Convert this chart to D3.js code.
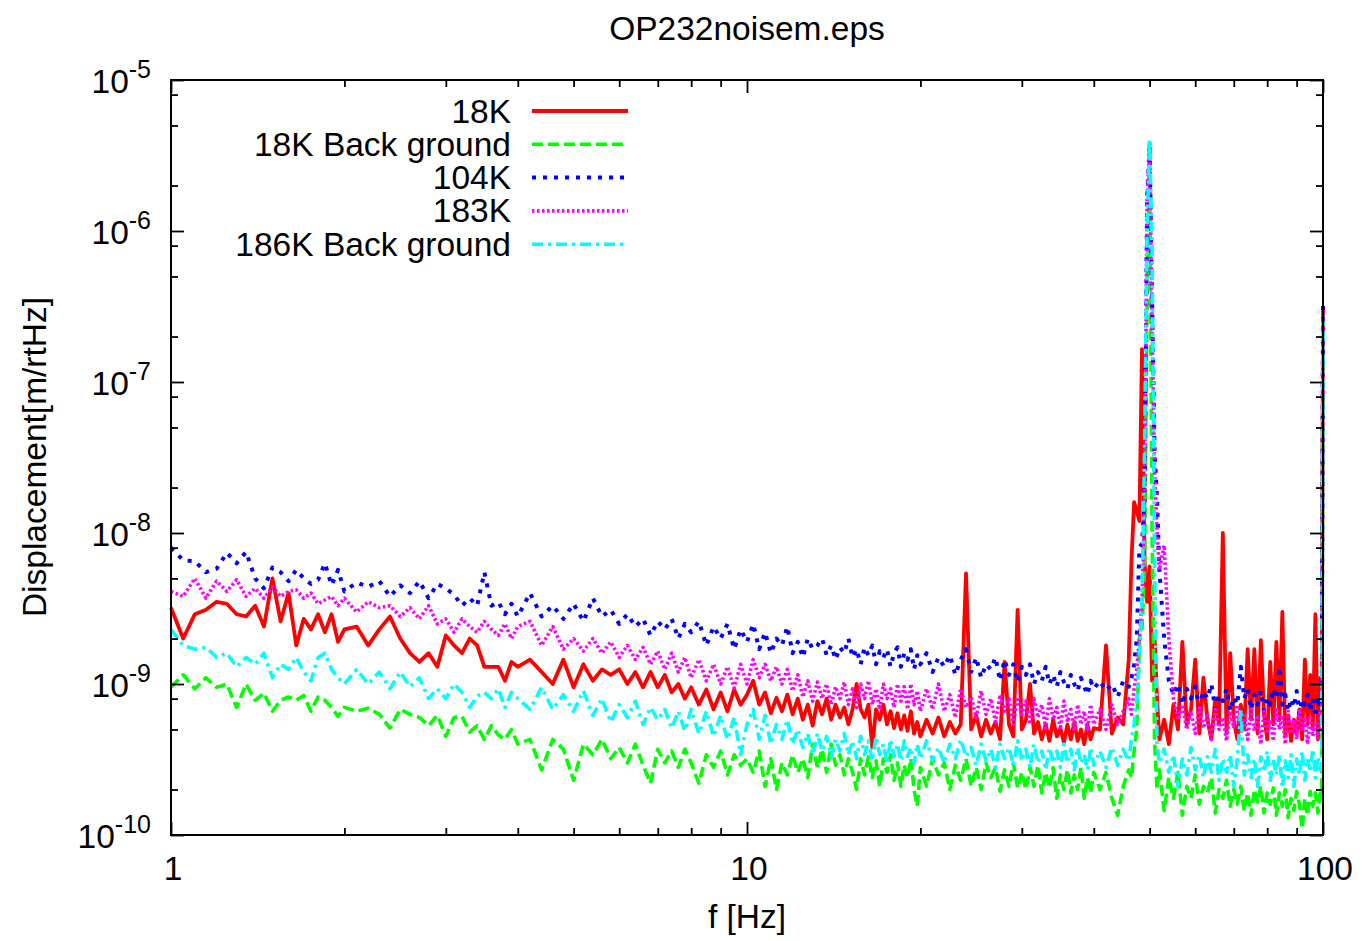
<!DOCTYPE html>
<html><head><meta charset="utf-8">
<script src="https://cdn.jsdelivr.net/npm/d3@7"></script>
<style>
body{margin:0;background:#fff;}
text{font-family:"Liberation Sans",Arial,Helvetica,sans-serif;fill:#000;}
</style></head><body>
<svg id="chart" width="1362" height="941"></svg>
<script>
// ---------------- data ----------------
const titleText = "OP232noisem.eps";
const xLabel = "f [Hz]";
const yLabel = "Displacement[m/rtHz]";
const seriesNames = ["18K","18K Back ground","104K","183K","186K Back ground"];

const freq = [
 1.00,1.05,1.10,1.15,1.20,1.25,1.30,1.35,1.40,1.45,1.50,1.55,1.60,1.65,1.70,1.75,1.80,1.85,1.90,1.95,2.00,
 2.1,2.2,2.3,2.4,2.5,2.6,2.7,2.8,2.9,3.0,3.1,3.2,3.3,3.4,3.5,3.6,3.7,3.8,3.9,4.0,
 4.2,4.4,4.6,4.8,5.0,5.2,5.4,5.6,5.8,6.0,6.2,6.4,6.6,6.8,7.0,7.2,7.4,7.6,7.8,8.0,
 8.25,8.5,8.75,9.0,9.25,9.5,9.75,10.0,
 10.25,10.5,10.75,11,11.25,11.5,11.75,12,12.25,12.5,12.75,13,13.25,13.5,13.75,14,14.25,14.5,14.75,15,
 15.25,15.5,15.75,16,16.25,16.5,16.75,17,17.25,17.5,17.75,18,18.25,18.5,18.75,19,19.25,19.5,19.75,20,
 20.5,21,21.5,22,22.5,23,23.5,24,24.5,25,25.5,26,26.5,27,27.5,28,28.5,29,29.5,30,
 30.5,31,31.5,32,32.5,33,33.5,34,34.5,35,35.5,36,36.5,37,37.5,38,38.5,39,39.5,40,
 41,42,43,44,45,46,
 46.5,47,47.5,48,48.5,49,49.5,50,50.5,51,51.5,52,
 53,54,55,56,57,58,59,60,61,62,63,64,65,66,67,68,69,70,71,72,
 73,74,75,76,77,78,79,80,81,82,83,84,85,86,87,88,89,90,91,92,
 93,94,95,96,97,98,99,99.5,100
];

const s18K = [
 3.2e-9,2.0e-9,2.9e-9,3.1e-9,3.5e-9,3.4e-9,2.9e-9,2.8e-9,3.3e-9,2.4e-9,5.0e-9,2.6e-9,4.0e-9,1.8e-9,2.7e-9,2.3e-9,2.9e-9,2.2e-9,2.9e-9,1.9e-9,2.3e-9,
 2.4e-9,1.8e-9,2.3e-9,2.8e-9,2.0e-9,1.6e-9,1.4e-9,1.6e-9,1.3e-9,2.1e-9,1.8e-9,1.6e-9,2.0e-9,1.8e-9,1.3e-9,1.3e-9,1.3e-9,1.05e-9,1.4e-9,1.3e-9,
 1.45e-9,1.2e-9,1.0e-9,1.45e-9,9.5e-10,1.35e-9,1.05e-9,1.25e-9,1.15e-9,1.25e-9,1.0e-9,1.2e-9,9.5e-10,1.2e-9,9.5e-10,1.15e-9,8.8e-10,1.0e-9,8e-10,9.5e-10,
 7.3e-10,9.2e-10,6.8e-10,8.8e-10,6.6e-10,9.2e-10,7.3e-10,8.5e-10,
 1.05e-9,7.3e-10,8.8e-10,6.4e-10,8.1e-10,6.6e-10,8.5e-10,6.3e-10,8e-10,5.8e-10,7.3e-10,5.3e-10,7.7e-10,6.3e-10,8e-10,5.8e-10,7.3e-10,6e-10,7e-10,5.4e-10,
 6.8e-10,1.0e-9,6.8e-10,6e-10,7.3e-10,3.8e-10,6.8e-10,5.8e-10,7.3e-10,5.4e-10,6.6e-10,5.1e-10,6.4e-10,5e-10,6.2e-10,4.9e-10,6.6e-10,4.7e-10,5.6e-10,4.5e-10,
 5.8e-10,4.7e-10,6e-10,4.5e-10,5.6e-10,4.7e-10,5.4e-10,5.4e-9,5e-10,6.2e-10,4.5e-10,5.8e-10,4.7e-10,5.6e-10,4.3e-10,1.4e-9,5.4e-10,4.5e-10,3.1e-9,5e-10,
 5.8e-10,1.0e-9,4.7e-10,5.6e-10,4.3e-10,5.4e-10,4.2e-10,5.8e-10,4.5e-10,5.1e-10,4.1e-10,5.4e-10,4.3e-10,5.6e-10,4.2e-10,5e-10,4e-10,5.4e-10,4.3e-10,5.1e-10,
 5e-10,1.8e-9,4.7e-10,6e-10,5.4e-10,1.45e-9,
 6.5e-9,1.6e-8,1.4e-8,1.2e-8,1.65e-7,6.5e-9,3.5e-9,6e-9,1.05e-9,2.1e-9,8e-10,4.3e-10,
 5.8e-10,4e-10,7.3e-10,5e-10,1.9e-9,5.4e-10,6.8e-10,1.45e-9,4.7e-10,1.1e-9,5.8e-10,4.3e-10,8e-10,5.4e-10,1.0e-8,4.7e-10,1.6e-9,5.8e-10,4.3e-10,7.3e-10,
 5e-10,1.7e-9,5.8e-10,1.7e-9,4.7e-10,1.95e-9,6.2e-10,4.3e-10,1.4e-9,5.4e-10,1.9e-9,5.8e-10,3e-9,4.5e-10,6.2e-10,4.2e-10,5.8e-10,4.7e-10,6.8e-10,4.3e-10,
 1.45e-9,5.4e-10,1.15e-9,5e-10,2.9e-9,4.3e-10,1.1e-9,5.8e-10,3e-7
];

const s18KBack = [
 9.5e-10,1.15e-9,9.3e-10,1.1e-9,9.5e-10,1.0e-9,7e-10,1.0e-9,7.8e-10,8.7e-10,6.6e-10,7.8e-10,8.2e-10,7.8e-10,8.4e-10,6.6e-10,8.2e-10,7.8e-10,7e-10,6.1e-10,7e-10,
 6.6e-10,6.9e-10,6.3e-10,5.1e-10,6.8e-10,6.3e-10,6e-10,5.3e-10,6.2e-10,4.5e-10,6e-10,6.1e-10,4.8e-10,5.3e-10,4.3e-10,5.3e-10,4.6e-10,4.3e-10,5e-10,4e-10,
 4.3e-10,2.7e-10,4.3e-10,3.7e-10,2.3e-10,4e-10,3.4e-10,4.3e-10,3.2e-10,3.8e-10,3e-10,4e-10,2.9e-10,2.2e-10,3.7e-10,3e-10,3.6e-10,2.8e-10,3.7e-10,3e-10,
 2.2e-10,3.4e-10,2.8e-10,3.6e-10,2.5e-10,3.4e-10,2.9e-10,3.2e-10,
 2.6e-10,3.6e-10,2.1e-10,3.2e-10,2e-10,3e-10,2.5e-10,3.4e-10,2.6e-10,3.2e-10,2.4e-10,4e-10,2.8e-10,3.7e-10,2.6e-10,4e-10,2.9e-10,3.4e-10,2.5e-10,3.2e-10,
 2.6e-10,2e-10,3.2e-10,2.5e-10,3.3e-10,2.4e-10,3.1e-10,2.1e-10,3.2e-10,2.6e-10,3.4e-10,2.3e-10,3e-10,2.1e-10,2.9e-10,2.4e-10,3.2e-10,2e-10,1.55e-10,2.8e-10,
 2.1e-10,3.2e-10,2.5e-10,3e-10,2e-10,2.9e-10,2.3e-10,3.2e-10,2.1e-10,2.8e-10,2e-10,3e-10,2.4e-10,2.8e-10,1.95e-10,2.7e-10,2.1e-10,3e-10,2.05e-10,2.6e-10,
 2e-10,2.8e-10,2.1e-10,2.9e-10,1.9e-10,2.6e-10,2.05e-10,2.8e-10,1.75e-10,2.5e-10,2e-10,2.7e-10,1.9e-10,2.5e-10,2e-10,2.8e-10,1.75e-10,2.4e-10,1.9e-10,2.6e-10,
 2e-10,2.6e-10,1.75e-10,1.35e-10,2.1e-10,2.7e-10,
 2.4e-10,3.6e-10,5e-10,2e-9,2.3e-9,5.7e-9,3.5e-7,3.8e-6,1e-8,4.2e-10,2e-10,2.7e-10,
 1.45e-10,2.4e-10,1.75e-10,2.6e-10,1.35e-10,2.1e-10,1.75e-10,2.5e-10,1.6e-10,2.1e-10,1.9e-10,2.4e-10,1.4e-10,2e-10,1.75e-10,2.3e-10,1.55e-10,2e-10,1.6e-10,2.1e-10,
 1.45e-10,1.9e-10,1.35e-10,2e-10,1.65e-10,2.1e-10,1.4e-10,1.9e-10,1.6e-10,2.05e-10,1.35e-10,1.9e-10,1.55e-10,2e-10,1.3e-10,1.75e-10,1.45e-10,1.95e-10,1.6e-10,1.1e-10,
 1.75e-10,1.35e-10,1.95e-10,1.55e-10,1.9e-10,1.4e-10,2e-10,1.75e-10,2.8e-7
];

const s104K = [
 8e-9,6.6e-9,6.5e-9,5.5e-9,5.8e-9,7.4e-9,6.3e-9,7.5e-9,5e-9,4.3e-9,5.9e-9,5.5e-9,4.8e-9,5.7e-9,5e-9,4.6e-9,4.9e-9,6.3e-9,4.5e-9,5.7e-9,4.1e-9,
 4.7e-9,4.4e-9,4.8e-9,3.8e-9,4.5e-9,4e-9,4.8e-9,3.7e-9,4.6e-9,4.3e-9,3.9e-9,3.3e-9,3.7e-9,3.3e-9,5.5e-9,3.3e-9,3.5e-9,2.9e-9,3.4e-9,2.8e-9,
 4e-9,2.8e-9,3.3e-9,2.7e-9,3.4e-9,2.6e-9,3.7e-9,2.8e-9,3.1e-9,2.5e-9,2.9e-9,2.4e-9,2.7e-9,2.1e-9,2.6e-9,2.3e-9,2.7e-9,2e-9,2.5e-9,2.2e-9,
 2.6e-9,1.8e-9,2.4e-9,2e-9,2.5e-9,1.7e-9,2.3e-9,1.9e-9,
 2.5e-9,1.7e-9,2.2e-9,1.6e-9,2e-9,1.8e-9,2.4e-9,1.6e-9,1.9e-9,1.5e-9,2e-9,1.7e-9,1.8e-9,2e-9,1.55e-9,1.8e-9,1.45e-9,1.75e-9,1.6e-9,2e-9,
 1.5e-9,1.7e-9,1.35e-9,1.75e-9,1.55e-9,1.8e-9,1.35e-9,1.65e-9,1.5e-9,1.7e-9,1.3e-9,1.6e-9,1.75e-9,1.3e-9,1.6e-9,1.45e-9,1.7e-9,1.25e-9,1.55e-9,1.35e-9,
 1.6e-9,1.2e-9,1.5e-9,1.3e-9,1.55e-9,1.15e-9,1.45e-9,1.7e-9,1.2e-9,1.5e-9,1.1e-9,1.35e-9,1.25e-9,1.5e-9,1.05e-9,1.45e-9,1.15e-9,1.35e-9,1.03e-9,1.3e-9,
 1.15e-9,1.35e-9,1e-9,1.2e-9,1.05e-9,1.3e-9,1e-9,1.15e-9,9.6e-10,1.2e-9,1.03e-9,9.3e-10,1.15e-9,1e-9,9e-10,1.1e-9,9.6e-10,8.5e-10,1.05e-9,9.3e-10,
 1.05e-9,9e-10,1e-9,8.2e-10,1.05e-9,9.6e-10,
 1.1e-9,1.35e-9,2e-9,8e-9,8.5e-9,1.7e-8,1.6e-6,3.7e-6,3.5e-7,3.5e-8,1.7e-8,5.7e-9,
 2e-9,1.05e-9,8.5e-10,1e-9,7.3e-10,9.3e-10,8e-10,9.6e-10,7e-10,9e-10,8e-10,1e-9,6.8e-10,8.5e-10,7.7e-10,9.3e-10,6.6e-10,8.2e-10,7.3e-10,1.3e-9,
 8e-10,9.3e-10,6.8e-10,8.5e-10,7.3e-10,9e-10,6.6e-10,8.2e-10,7.3e-10,9.3e-10,8e-10,1.3e-9,7.3e-10,8.5e-10,6.6e-10,8e-10,7e-10,9e-10,6.3e-10,8e-10,
 7.3e-10,8.5e-10,6.6e-10,8e-10,6e-10,8.2e-10,6.8e-10,8.5e-10,3.2e-7
];

const s183K = [
 4.1e-9,3.8e-9,5e-9,3.7e-9,4.8e-9,4.1e-9,4.9e-9,3.8e-9,4.3e-9,3.7e-9,4.4e-9,3.8e-9,4.1e-9,4.2e-9,3.7e-9,4e-9,3.4e-9,3.6e-9,3.8e-9,3.3e-9,3.7e-9,
 3e-9,3.5e-9,3.2e-9,3.3e-9,2.8e-9,3.2e-9,2.7e-9,3.3e-9,2.5e-9,2.7e-9,2.2e-9,2.7e-9,2.4e-9,2.2e-9,2.6e-9,2.3e-9,2.1e-9,2.5e-9,2e-9,2.4e-9,
 2.6e-9,1.8e-9,2.4e-9,1.7e-9,2e-9,1.65e-9,2e-9,1.6e-9,1.9e-9,1.5e-9,1.8e-9,1.45e-9,1.75e-9,1.35e-9,1.65e-9,1.25e-9,1.6e-9,1.2e-9,1.5e-9,1.1e-9,
 1.45e-9,1.05e-9,1.35e-9,1e-9,1.3e-9,9.4e-10,1.35e-9,1e-9,
 1.45e-9,1.1e-9,1.35e-9,1.05e-9,1.3e-9,1e-9,1.25e-9,9e-10,1.15e-9,8.2e-10,1.05e-9,7.7e-10,1.03e-9,8e-10,1e-9,7.3e-10,9.6e-10,8e-10,1.03e-9,7.3e-10,
 9.3e-10,7e-10,1e-9,8e-10,1.05e-9,7.3e-10,9.3e-10,6.8e-10,1e-9,8e-10,9.3e-10,7e-10,1e-9,7.7e-10,9.6e-10,6.8e-10,1e-9,7.3e-10,9e-10,6.6e-10,
 9.3e-10,6.8e-10,1e-9,6.6e-10,8.5e-10,6e-10,9.3e-10,7e-10,8.2e-10,6e-10,9e-10,6.3e-10,8e-10,5.6e-10,8.5e-10,6.6e-10,8e-10,5.4e-10,8.2e-10,6.3e-10,
 7.7e-10,5.4e-10,8e-10,6e-10,7.3e-10,5.1e-10,8e-10,5.8e-10,7e-10,5e-10,7.7e-10,5.6e-10,6.8e-10,4.9e-10,7.3e-10,5.4e-10,6.6e-10,4.9e-10,7.3e-10,5.4e-10,
 6.8e-10,5e-10,7.3e-10,5.4e-10,6.6e-10,8e-10,
 6.3e-10,9.3e-10,1.25e-9,2e-9,3.5e-9,1.4e-8,1.6e-6,3.9e-6,2.6e-7,2.6e-8,1.05e-8,5.7e-9,
 8.3e-9,2e-9,8e-10,5.8e-10,7.3e-10,5e-10,6.6e-10,4.7e-10,7e-10,5.1e-10,6.2e-10,4.3e-10,6.8e-10,5e-10,6e-10,4.2e-10,6.6e-10,5.1e-10,7.3e-10,4.7e-10,
 6.2e-10,4.3e-10,6.8e-10,4.9e-10,6e-10,4e-10,6.6e-10,4.7e-10,5.8e-10,4.2e-10,7e-10,5e-10,6.2e-10,4e-10,6.6e-10,4.7e-10,5.8e-10,4.3e-10,6.8e-10,4.9e-10,
 6e-10,4e-10,6.2e-10,4.5e-10,5.6e-10,4.2e-10,6.6e-10,5e-10,3e-7
];

const s186KBack = [
 2.3e-9,1.8e-9,1.7e-9,1.75e-9,1.5e-9,1.6e-9,1.3e-9,1.5e-9,1.35e-9,1.6e-9,1.1e-9,1.35e-9,1.25e-9,1.5e-9,1.2e-9,1.05e-9,1.5e-9,1.6e-9,1.25e-9,1.1e-9,1e-9,
 1.25e-9,1e-9,1.2e-9,9.3e-10,1.2e-9,9.6e-10,1.1e-9,8e-10,9.3e-10,8e-10,1e-9,8.8e-10,7e-10,8.3e-10,8.8e-10,8e-10,9.3e-10,7e-10,8.8e-10,8e-10,
 6.8e-10,9.5e-10,6.8e-10,8.5e-10,6.6e-10,9e-10,6.2e-10,8e-10,5.6e-10,7.3e-10,6e-10,7.7e-10,5.4e-10,7e-10,5.8e-10,6.8e-10,5.1e-10,6.6e-10,4.9e-10,6.8e-10,
 4.7e-10,6.6e-10,4.5e-10,6.2e-10,4.3e-10,6e-10,3.4e-10,5.4e-10,
 6.8e-10,4.3e-10,6.2e-10,4e-10,5.4e-10,4.3e-10,5.8e-10,4e-10,5e-10,3.8e-10,4.7e-10,3.4e-10,4.7e-10,3.6e-10,4.5e-10,3.3e-10,4.3e-10,3.6e-10,4.7e-10,3.4e-10,
 4.2e-10,3.2e-10,4.5e-10,3.4e-10,4.2e-10,3.1e-10,4.5e-10,3.4e-10,4e-10,3e-10,4.3e-10,3.3e-10,4e-10,3.1e-10,4.2e-10,3.3e-10,3.8e-10,3e-10,4e-10,3.2e-10,
 4.2e-10,3.1e-10,3.8e-10,3e-10,4e-10,3.2e-10,4.3e-10,3.3e-10,3.8e-10,2.9e-10,4e-10,3.1e-10,3.7e-10,2.8e-10,4e-10,3.2e-10,3.8e-10,2.9e-10,4.2e-10,3.1e-10,
 3.7e-10,2.8e-10,4e-10,3e-10,3.6e-10,2.7e-10,3.8e-10,3e-10,3.6e-10,2.8e-10,4e-10,3e-10,3.7e-10,2.7e-10,3.8e-10,3e-10,3.4e-10,2.7e-10,3.8e-10,2.9e-10,
 3.6e-10,2.8e-10,3.8e-10,2.9e-10,3.7e-10,3.1e-10,
 4.3e-10,5.4e-10,8e-10,1.45e-9,3.5e-9,3.5e-8,1e-6,4.1e-6,7.5e-7,6.6e-9,4e-10,3e-10,
 3.7e-10,2.6e-10,3.4e-10,2.1e-10,3.2e-10,2.5e-10,3.8e-10,2.7e-10,3.4e-10,2.4e-10,3.3e-10,2.6e-10,3.7e-10,2.3e-10,3.2e-10,2.6e-10,3.4e-10,2.1e-10,3.2e-10,6.8e-10,
 2.5e-10,3.4e-10,2.4e-10,3.2e-10,2.1e-10,3.3e-10,2.6e-10,3.6e-10,2.3e-10,3.2e-10,2.5e-10,3.4e-10,2.05e-10,3.1e-10,2.4e-10,3.4e-10,2.1e-10,3.2e-10,2.5e-10,3.6e-10,
 2.3e-10,3.2e-10,2.6e-10,3.7e-10,2.4e-10,3.3e-10,2.7e-10,3.4e-10,2.6e-7
];

const xTickValues = [1,10,100];
const xTickLabels = ["1","10","100"];
const xMinorTicks = [2,3,4,5,6,7,8,9,20,30,40,50,60,70,80,90];
const yTickValues = [1e-10,1e-9,1e-8,1e-7,1e-6,1e-5];
const yTickExponents = ["-10","-9","-8","-7","-6","-5"];
const yMinorTicks = [2e-10,5e-10,8e-10,2e-9,5e-9,8e-9,2e-8,5e-8,8e-8,2e-7,5e-7,8e-7,2e-6,5e-6,8e-6];

// ---------------- layout ----------------
const L=171, R=1323, T=80, B=835;
const FS = 33.5;
const svg = d3.select("#chart");
const x = d3.scaleLog().domain([1,100]).range([L,R]);
const y = d3.scaleLog().domain([1e-10,1e-5]).range([B,T]);

const styles = [
  {color:"#ff0000", dash:null, width:3.8},
  {color:"#00ff00", dash:"11,5", width:3.6},
  {color:"#0000ff", dash:"4,7", width:4},
  {color:"#ff00ff", dash:"2.5,2.5", width:3.6},
  {color:"#00ffff", dash:"11,5,3,5", width:3.6}
];
const allSeries = [s18K, s18KBack, s104K, s183K, s186KBack];

// data lines
const line = d3.line().x(d=>x(d[0])).y(d=>y(d[1]));
const gData = svg.append("g");
allSeries.forEach((vals,i)=>{
  const pts = freq.map((f,j)=>[f, vals[j]]).filter(d=>d[1]!=null);
  gData.append("path").datum(pts)
    .attr("d", line)
    .attr("fill","none")
    .attr("stroke", styles[i].color)
    .attr("stroke-width", styles[i].width)
    .attr("stroke-linejoin","round")
    .attr("stroke-dasharray", styles[i].dash);
});

// axes (ticks inward, mirrored)
function styleAxis(g){ g.select(".domain").remove(); g.selectAll(".tick line").attr("stroke","#000").attr("stroke-width",1.8); g.selectAll(".tick text").remove(); }
svg.append("g").attr("transform",`translate(0,${B})`).call(d3.axisBottom(x).tickValues(xTickValues).tickSize(-13).tickFormat("")).call(styleAxis);
svg.append("g").attr("transform",`translate(0,${B})`).call(d3.axisBottom(x).tickValues(xMinorTicks).tickSize(-7).tickFormat("")).call(styleAxis);
svg.append("g").attr("transform",`translate(0,${T})`).call(d3.axisTop(x).tickValues(xTickValues).tickSize(-13).tickFormat("")).call(styleAxis);
svg.append("g").attr("transform",`translate(0,${T})`).call(d3.axisTop(x).tickValues(xMinorTicks).tickSize(-7).tickFormat("")).call(styleAxis);
svg.append("g").attr("transform",`translate(${L},0)`).call(d3.axisLeft(y).tickValues(yTickValues).tickSize(-13).tickFormat("")).call(styleAxis);
svg.append("g").attr("transform",`translate(${L},0)`).call(d3.axisLeft(y).tickValues(yMinorTicks).tickSize(-7).tickFormat("")).call(styleAxis);
svg.append("g").attr("transform",`translate(${R},0)`).call(d3.axisRight(y).tickValues(yTickValues).tickSize(-13).tickFormat("")).call(styleAxis);
svg.append("g").attr("transform",`translate(${R},0)`).call(d3.axisRight(y).tickValues(yMinorTicks).tickSize(-7).tickFormat("")).call(styleAxis);

svg.append("rect").attr("x",L).attr("y",T).attr("width",R-L).attr("height",B-T)
  .attr("fill","none").attr("stroke","#000").attr("stroke-width",2);

// tick labels
svg.append("g").selectAll("text").data(xTickValues).join("text")
  .attr("x",d=>x(d)+2).attr("y",880).attr("text-anchor","middle")
  .attr("font-size",FS).text((d,i)=>xTickLabels[i]);
const yl = svg.append("g").selectAll("text").data(yTickValues).join("text")
  .attr("x",151).attr("y",d=>y(d)+12.5).attr("text-anchor","end").attr("font-size",FS);
yl.append("tspan").text("10");
yl.append("tspan").attr("dy",-15).attr("font-size",25).text((d,i)=>yTickExponents[i]);

// titles
svg.append("text").attr("x",747).attr("y",40).attr("text-anchor","middle").attr("font-size",FS).text(titleText);
svg.append("text").attr("x",747).attr("y",928).attr("text-anchor","middle").attr("font-size",FS).text(xLabel);
svg.append("text").attr("transform","translate(46,457) rotate(-90)").attr("text-anchor","middle").attr("font-size",FS).text(yLabel);

// legend
const lg = svg.append("g");
seriesNames.forEach((name,i)=>{
  const cy = 111 + i*33.3;
  lg.append("text").attr("x",511).attr("y",cy+11.5).attr("text-anchor","end").attr("font-size",FS).text(name);
  lg.append("line").attr("x1",532).attr("x2",628).attr("y1",cy).attr("y2",cy)
    .attr("stroke",styles[i].color).attr("stroke-width",styles[i].width)
    .attr("stroke-dasharray",styles[i].dash);
});
</script>
</body></html>
